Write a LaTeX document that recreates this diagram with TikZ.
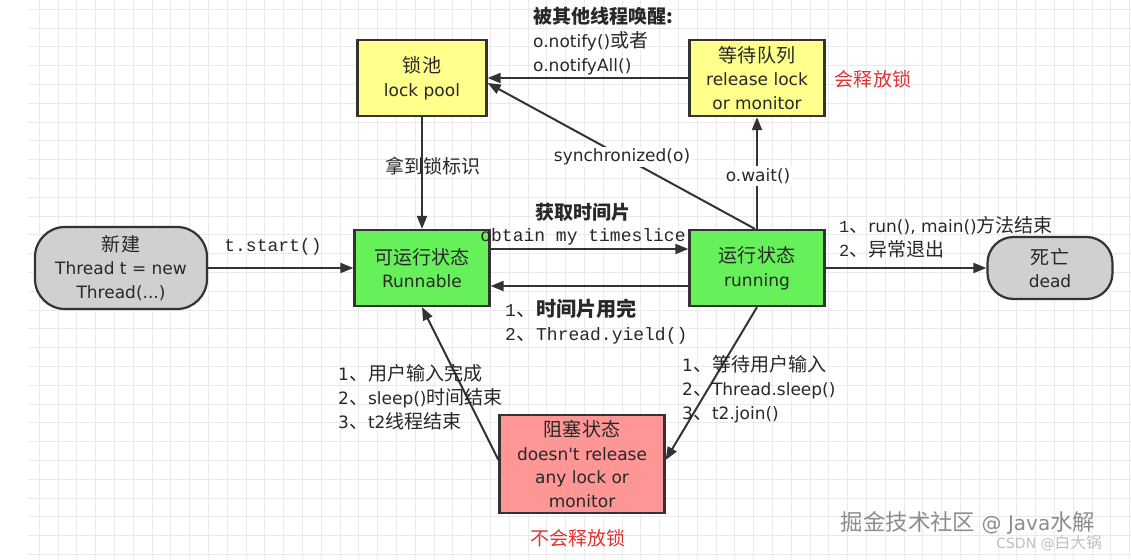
\documentclass[tikz,border=0pt]{standalone}
\usepackage{fontspec}
\setmainfont{DejaVu Sans}
\setmonofont{Liberation Mono}
\newfontfamily\cjk{Noto Sans CJK SC}[Scale=1.12]
\usetikzlibrary{arrows.meta}
\definecolor{gridgray}{RGB}{234,234,234}
\definecolor{linegray}{RGB}{51,51,51}
\definecolor{textgray}{RGB}{40,40,40}
\definecolor{poolyellow}{RGB}{255,255,140}
\definecolor{rungreen}{RGB}{102,240,90}
\definecolor{stategray}{RGB}{208,208,208}
\definecolor{blockred}{RGB}{255,150,150}
\definecolor{lockred}{RGB}{225,50,50}
\newcommand{\zh}[1]{{\cjk #1}}

\begin{document}
\begin{tikzpicture}[x=1pt, y=-1pt,
    gridline/.style={draw=gridgray, line width=1pt},
    box/.style={draw=linegray, line width=2.2pt, text=textgray, align=center, inner sep=0pt, font=\fontsize{17}{23.5}\selectfont},
    poolbox/.style={box, fill=poolyellow, minimum height=76pt},
    runbox/.style={box, fill=rungreen, minimum width=135pt, minimum height=76pt},
    endbox/.style={box, fill=stategray},
    blockbox/.style={box, fill=blockred, minimum width=165pt, minimum height=98pt},
    flow/.style={draw=linegray, line width=2pt, -{Triangle[length=13pt, width=10pt]}},
    lbl/.style={text=textgray, inner sep=0pt, align=left, font=\fontsize{17}{24}\selectfont},
    codelbl/.style={lbl, font=\ttfamily\fontsize{18}{24}\selectfont},
    redlbl/.style={lbl, text=lockred},
  ]
        \useasboundingbox (0,0) rectangle (1131,559);
        % background grid
        \foreach \i in {0,...,58}
          \draw[gridline] ({39.3+18.8*\i},0) -- ({39.3+18.8*\i},559);
        \foreach \j in {0,...,29}
          \draw[gridline] (28,{9.3+18.8*\j}) -- (1131,{9.3+18.8*\j});

        % the states
        \node[poolbox, minimum width=129pt] (lock) at (422,78) {\zh{锁池}\\lock pool};
        \node[poolbox, minimum width=135pt] (waiting) at (757,78) {\zh{等待队列}\\release lock\\or monitor};
        \node[endbox, minimum width=172pt, minimum height=82pt, rounded corners=30pt] (new) at (121,268) {\zh{新建}\\Thread t = new\\Thread(...)};
        \node[runbox] (runnable) at (422,268) {\zh{可运行状态}\\Runnable};
        \node[runbox] (running) at (757,268) {\zh{运行状态}\\running};
        \node[endbox, minimum width=125pt, minimum height=62pt, rounded corners=26pt] (dead) at (1050,268) {\zh{死亡}\\dead};
        \node[blockbox] (blocked) at (582,464) {\zh{阻塞状态}\\doesn\textquotesingle t release\\any lock or\\monitor};

        % arrows between the states
        \draw[flow] (new) -- (runnable);
        \draw[flow] ([yshift=19pt]runnable.east) -- ([yshift=19pt]running.west);
        \draw[flow] ([yshift=-18pt]running.west) -- ([yshift=-18pt]runnable.east);
        \draw[flow] (lock) -- (runnable);
        \draw[flow] (running) -- (waiting);
        \draw[flow] (waiting) -- (lock);
        \draw[flow] ([xshift=-2pt]running.north) -- ([yshift=-5pt]lock.east);
        \draw[flow] (running) -- (dead);
        \draw[flow] (running.south) -- ([yshift=4pt]blocked.east);
        \draw[flow] ([yshift=4pt]blocked.west) -- (runnable.south);

        % labels on the arrows
        \node[codelbl] (startlbl) at (273,247) {t.start()};
        \node[lbl] (getlbl) at (583,212) {\zh{\bfseries 获取时间片}};
        \node[codelbl] (obtainlbl) at (583,237) {obtain my timeslice};
        \node[codelbl, anchor=west] (yieldlbl) at (505,322) {1\zh{、\bfseries 时间片用完}\\2\zh{、}Thread.yield()};
        \node[lbl] (locklbl) at (433,166) {\zh{拿到锁标识}};
        \node[lbl, fill=white, inner sep=2pt] (waitlbl) at (758,176) {o.wait()};
        \node[lbl, fill=white, inner sep=2pt] (synclbl) at (622,157) {synchronized(o)};
        \node[lbl, anchor=west] (notifylbl) at (533,41) {\zh{\bfseries 被其他线程唤醒:}\\o.notify()\zh{或者}\\o.notifyAll()};
        \node[lbl, anchor=west] (deadlbl) at (839,237) {{\ttfamily 1}\zh{、}run(), main()\zh{方法结束}\\{\ttfamily 2}\zh{、异常退出}};
        \node[lbl, anchor=west] (wakelbl) at (338,397) {1\zh{、用户输入完成}\\2\zh{、}sleep()\zh{时间结束}\\3\zh{、}t2\zh{线程结束}};
        \node[lbl, anchor=west] (sleeplbl) at (682,389) {1\zh{、等待用户输入}\\2\zh{、}Thread.sleep()\\3\zh{、}t2.join()};
        \node[redlbl] (releaselbl) at (873,79) {\zh{会释放锁}};
        \node[redlbl] (keeplbl) at (578,538) {\zh{不会释放锁}};

        % watermarks
        \node[lbl, text=black!45, font=\fontsize{20}{24}\selectfont] (mark) at (968,523) {\zh{掘金技术社区} @ Java\zh{水解}};
        \node[lbl, text=black!25, font=\fontsize{14}{18}\selectfont] (csdn) at (1049,543) {CSDN @\zh{白大锅}};
\end{tikzpicture}
\end{document}
